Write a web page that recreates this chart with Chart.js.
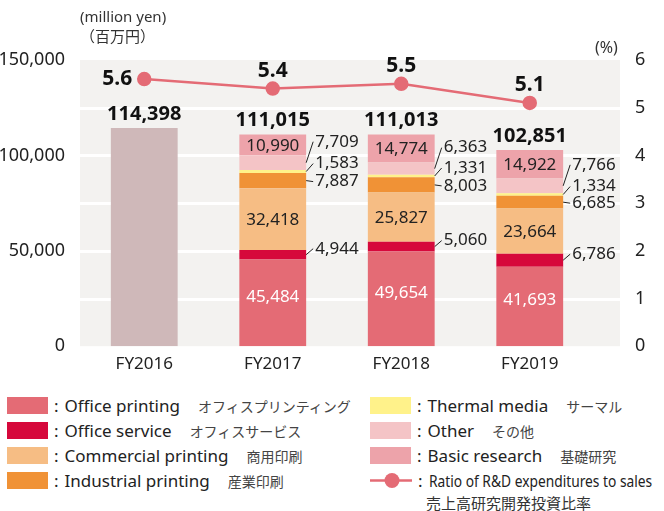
<!DOCTYPE html>
<html>
<head>
<meta charset="utf-8">
<script src="https://cdn.jsdelivr.net/npm/chart.js@4"></script>
<style>
  body { margin: 0; background: #fff; font-family: "Noto Sans", "Noto Sans CJK JP", sans-serif; color: #222; }
  #wrap { position: relative; width: 664px; height: 511px; }
  #chartBox { position: absolute; left: 0; top: 0; width: 664px; height: 390px; }
  .unit { position: absolute; font-size: 15px; color: #333; line-height: 20px; }
  .lg { position: absolute; height: 25px; display: flex; align-items: center; font-size: 17px; white-space: nowrap; }
  .sw { width: 41px; height: 17px; margin-right: 6px; }
  .colon { margin-right: 6px; }
  .jp { font-family: "Noto Sans CJK JP", sans-serif; font-size: 14px; color: #444; margin-left: 18px; }
</style>
</head>
<body>
<div id="wrap">
  <div id="chartBox"><canvas id="myChart" width="664" height="390"></canvas></div>
  <div class="unit" style="left:80px;top:6px">(million yen)<br><span style="font-family:'Noto Sans CJK JP'">（百万円）</span></div>
  <div class="unit" style="left:595px;top:37px;font-size:16px">(%)</div>
  <div id="legend"></div>
</div>
<script>
var years = ['FY2016', 'FY2017', 'FY2018', 'FY2019'];
var fy2016Total = [114398, null, null, null];
var officePrinting = [null, 45484, 49654, 41693];
var officeService = [null, 4944, 5060, 6786];
var commercialPrinting = [null, 32418, 25827, 23664];
var industrialPrinting = [null, 7887, 8003, 6685];
var thermalMedia = [null, 1583, 1331, 1334];
var otherSeg = [null, 7709, 6363, 7766];
var basicResearch = [null, 10990, 14774, 14922];
var totals = [114398, 111015, 111013, 102851];
var rdRatio = [5.6, 5.4, 5.5, 5.1];
var leftTicks = [0, 50000, 100000, 150000];
var rightTicks = [0, 1, 2, 3, 4, 5, 6];

var legendItems = [
    { en: 'Office printing', jp: 'オフィスプリンティング', color: '#e46b75' },
    { en: 'Office service', jp: 'オフィスサービス', color: '#d6083b' },
    { en: 'Commercial printing', jp: '商用印刷', color: '#f6bd84' },
    { en: 'Industrial printing', jp: '産業印刷', color: '#f09236' },
    { en: 'Thermal media', jp: 'サーマル', color: '#fff28a' },
    { en: 'Other', jp: 'その他', color: '#f4c4c6' },
    { en: 'Basic research', jp: '基礎研究', color: '#eda3aa' }
];

// how each segment is labelled: inside the bar or to the right with a leader
var labelMode = ['none', 'inWhite', 'out', 'in', 'out', 'out', 'out', 'in'];
var outOffset = [0, 0, -6, 0, 1, -8, -21, 0];

var FONT = '"Noto Sans", sans-serif';
var PLOT_RIGHT = 620;

var backdrop = {
    id: 'backdrop',
    beforeDatasetsDraw: function (chart) {
        var ctx = chart.ctx, a = chart.chartArea, y1 = chart.scales.y1;
        ctx.save();
        ctx.fillStyle = '#f3f2f0';
        ctx.fillRect(a.left, a.top, PLOT_RIGHT - a.left, a.bottom - a.top);
        ctx.strokeStyle = '#ffffff';
        ctx.lineWidth = 3;
        for (var t = 1; t <= 5; t++) {
            var y = Math.round(y1.getPixelForValue(t)) + 0.5;
            ctx.beginPath();
            ctx.moveTo(a.left, y);
            ctx.lineTo(PLOT_RIGHT, y);
            ctx.stroke();
        }
        ctx.restore();
    }
};

var valueLabels = {
    id: 'valueLabels',
    afterDatasetsDraw: function (chart) {
        var ctx = chart.ctx;
        ctx.save();
        ctx.textBaseline = 'middle';
        for (var d = 1; d <= 7; d++) {
            var meta = chart.getDatasetMeta(d);
            var vals = chart.data.datasets[d].data;
            for (var j = 1; j < 4; j++) {
                var bar = meta.data[j];
                var v = vals[j];
                var cy = (bar.y + bar.base) / 2;
                var txt = v.toLocaleString('en-US');
                ctx.font = '17px ' + FONT;
                if (labelMode[d] === 'inWhite' || labelMode[d] === 'in') {
                    ctx.fillStyle = labelMode[d] === 'inWhite' ? '#ffffff' : '#222';
                    ctx.textAlign = 'center';
                    var ty = labelMode[d] === 'inWhite' ? cy - 6 : cy + 1;
                    ctx.fillText(txt, bar.x, ty);
                } else if (labelMode[d] === 'out') {
                    var right = bar.x + bar.width / 2;
                    var ly = cy + outOffset[d];
                    ctx.strokeStyle = '#222';
                    ctx.lineWidth = 1;
                    ctx.beginPath();
                    ctx.moveTo(right, cy);
                    ctx.lineTo(right + 7, ly);
                    ctx.stroke();
                    ctx.fillStyle = '#222';
                    ctx.textAlign = 'left';
                    ctx.fillText(txt, right + 9, ly);
                }
            }
        }
        // totals above each bar
        var ys = chart.scales.y;
        ctx.font = 'bold 20px ' + FONT;
        ctx.fillStyle = '#111';
        ctx.textAlign = 'center';
        ctx.textBaseline = 'bottom';
        for (var k = 0; k < 4; k++) {
            var x = chart.scales.x.getPixelForValue(k);
            ctx.fillText(totals[k].toLocaleString('en-US'), x, ys.getPixelForValue(totals[k]) - 4);
        }
        // ratio labels
        var lm = chart.getDatasetMeta(8);
        ctx.font = 'bold 21px ' + FONT;
        ctx.textBaseline = 'middle';
        for (var p = 0; p < 4; p++) {
            var pt = lm.data[p];
            if (p === 0) {
                ctx.textAlign = 'right';
                ctx.fillText(rdRatio[p].toFixed(1), pt.x - 12, pt.y);
            } else {
                ctx.textAlign = 'center';
                ctx.fillText(rdRatio[p].toFixed(1), pt.x, pt.y - 18);
            }
        }
        ctx.restore();
    }
};

var barSets = [{
    label: 'FY2016',
    data: fy2016Total,
    backgroundColor: '#cfb8b9'
}];
var segData = [officePrinting, officeService, commercialPrinting, industrialPrinting, thermalMedia, otherSeg, basicResearch];
legendItems.forEach(function (item, i) {
    barSets.push({ label: item.en, data: segData[i], backgroundColor: item.color });
});
barSets.forEach(function (ds) {
    ds.type = 'bar';
    ds.yAxisID = 'y';
    ds.stack = 's';
    ds.order = 2;
    ds.barPercentage = 0.52;
    ds.categoryPercentage = 1;
});
barSets.push({
    type: 'line',
    label: 'Ratio of R&D expenditures to sales',
    data: rdRatio,
    yAxisID: 'y1',
    order: 0,
    borderColor: '#e46b75',
    backgroundColor: '#e46b75',
    borderWidth: 2.5,
    pointRadius: 6,
    pointHoverRadius: 6
});

var ctx = document.getElementById('myChart').getContext('2d');
var myChart = new Chart(ctx, {
    data: { labels: years, datasets: barSets },
    options: {
        responsive: false,
        animation: false,
        layout: { padding: { top: 60, left: 0, right: 0, bottom: 0 } },
        plugins: { legend: { display: false }, tooltip: { enabled: false } },
        scales: {
            x: {
                stacked: true,
                grid: { display: false },
                border: { display: false },
                ticks: { color: '#222', font: { family: FONT, size: 17 }, padding: 0 },
                afterFit: function (s) { s.height = 40; }
            },
            y: {
                stacked: true,
                position: 'left',
                min: 0, max: 150000,
                afterBuildTicks: function (s) { s.ticks = leftTicks.map(function (v) { return { value: v }; }); },
                grid: { display: false },
                border: { display: false },
                ticks: {
                    color: '#222', font: { family: FONT, size: 18 }, padding: 7,
                    callback: function (v) { return v.toLocaleString('en-US'); }
                },
                afterFit: function (s) { s.width = 80; }
            },
            y1: {
                position: 'right',
                min: 0, max: 6,
                afterBuildTicks: function (s) { s.ticks = rightTicks.map(function (v) { return { value: v }; }); },
                grid: { display: false },
                border: { display: false },
                ticks: { color: '#222', font: { family: FONT, size: 18 }, padding: 33 },
                afterFit: function (s) { s.width = 70; }
            }
        }
    },
    plugins: [backdrop, valueLabels]
});

// legend below the chart
var legend = document.getElementById('legend');
function addRow(x, y, swatch, en, jp, squeeze) {
    var row = document.createElement('div');
    row.className = 'lg';
    row.style.left = x + 'px';
    row.style.top = y + 'px';
    var enStyle = squeeze ? ' style="display:inline-block;transform:scaleX(0.81);transform-origin:left center"' : '';
    row.innerHTML = swatch + '<span class="colon">:</span><span' + enStyle + '>' + en + '</span>' +
        (jp ? '<span class="jp">' + jp + '</span>' : '');
    legend.appendChild(row);
}
legendItems.forEach(function (item, i) {
    var col = i < 4 ? 0 : 1;
    var r = i < 4 ? i : i - 4;
    addRow(col === 0 ? 7 : 370, 393 + r * 25,
        '<div class="sw" style="background:' + item.color + '"></div>', item.en, item.jp, false);
});
addRow(370, 468,
    '<svg width="42" height="17" style="margin-right:6px"><line x1="0" y1="8.5" x2="42" y2="8.5" stroke="#e46b75" stroke-width="2.5"/><circle cx="22" cy="8.5" r="7.5" fill="#e46b75"/></svg>',
    'Ratio of R&amp;D expenditures to sales', '', true);
var sub = document.createElement('div');
sub.style.cssText = 'position:absolute;left:426px;top:492px;font-family:"Noto Sans CJK JP";font-size:15px;color:#333;';
sub.textContent = '売上高研究開発投資比率';
legend.appendChild(sub);
</script>
</body>
</html>
